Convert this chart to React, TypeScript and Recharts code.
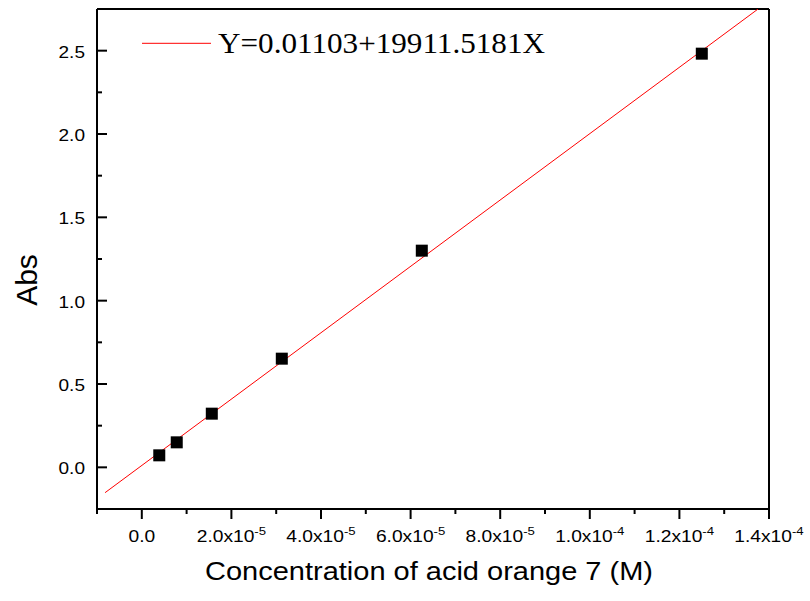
import React from 'react';
import { ComposedChart, XAxis, YAxis, Scatter, Line, ReferenceLine, Legend, Label } from 'recharts';

// Measured data (concentration in M, absorbance)
const concentration = [3.9e-6, 7.8e-6, 1.5625e-5, 3.125e-5, 6.25e-5, 1.25e-4];
const absorbance = [0.072, 0.15, 0.322, 0.652, 1.3, 2.482];
// Fitted line end points (Y=0.01103+19911.5181X), clipped at the top of the frame
const fitX = [-8.2e-6, 1.3756e-4];
const fitY = [-0.152, 2.75];

const xMajorTicks = [0, 2e-5, 4e-5, 6e-5, 8e-5, 1e-4, 1.2e-4, 1.4e-4];
const xMinorTicks = [-1e-5, 1e-5, 3e-5, 5e-5, 7e-5, 9e-5, 1.1e-4, 1.3e-4];
const xTickMantissa = ['0.0', '2.0x10', '4.0x10', '6.0x10', '8.0x10', '1.0x10', '1.2x10', '1.4x10'];
const xTickExponent = ['', '-5', '-5', '-5', '-5', '-4', '-4', '-4'];
const yMajorTicks = [0, 0.5, 1, 1.5, 2, 2.5];
const yMinorTicks = [0.25, 0.75, 1.25, 1.75, 2.25];
const yTickLabels = ['0.0', '0.5', '1.0', '1.5', '2.0', '2.5'];

const xTitle = 'Concentration of acid orange 7 (M)';
const yTitle = 'Abs';
const fitLabel = 'Y=0.01103+19911.5181X';

const xDomain: [number, number] = [-1e-5, 1.4e-4];
const yDomain: [number, number] = [-0.25, 2.75];

const points = concentration.map((x, i) => ({ x, y: absorbance[i] }));
const fitData = fitX.map((x, i) => ({ x, y: fitY[i] }));
const xTicks = [...xMajorTicks, ...xMinorTicks].sort((a, b) => a - b);
const yTicks = [...yMajorTicks, ...yMinorTicks].sort((a, b) => a - b);

const SANS = '"Liberation Sans", Arial, sans-serif';
const SERIF = '"Liberation Serif", "Times New Roman", serif';

const XTick = (props: any) => {
  const { x, y, payload } = props;
  const v = payload.value;
  const i = xMajorTicks.findIndex((t) => Math.abs(t - v) < 1e-12);
  if (i < 0) {
    return <line x1={x} y1={y} x2={x} y2={y + 5} stroke="#000" strokeWidth={2} />;
  }
  return (
    <g>
      <line x1={x} y1={y} x2={x} y2={y + 10} stroke="#000" strokeWidth={2} />
      <text
        transform={`translate(${x},${y + 33}) scale(1.2,1)`}
        textAnchor="middle"
        fontFamily={SANS}
        fontSize={16}
        fill="#000"
      >
        {xTickMantissa[i]}
        {xTickExponent[i] ? (
          <tspan dy={-7} fontSize={11}>
            {xTickExponent[i]}
          </tspan>
        ) : null}
      </text>
    </g>
  );
};

const YTick = (props: any) => {
  const { x, y, payload } = props;
  const v = payload.value;
  const i = yMajorTicks.findIndex((t) => Math.abs(t - v) < 1e-9);
  if (i < 0) {
    return <line x1={x} y1={y} x2={x + 5} y2={y} stroke="#000" strokeWidth={2} />;
  }
  return (
    <g>
      <line x1={x} y1={y} x2={x + 10} y2={y} stroke="#000" strokeWidth={2} />
      <text
        transform={`translate(${x - 12},${y + 7}) scale(1.12,1)`}
        textAnchor="end"
        fontFamily={SANS}
        fontSize={17}
        fill="#000"
      >
        {yTickLabels[i]}
      </text>
    </g>
  );
};

const SquareMarker = (props: any) => {
  const { cx, cy } = props;
  return <rect x={cx - 6} y={cy - 6} width={12} height={12} fill="#000" />;
};

const XTitle = (props: any) => {
  const { viewBox } = props;
  const cx = viewBox.x + viewBox.width / 2 - 4;
  const by = viewBox.y + 71;
  return (
    <text
      transform={`translate(${cx},${by}) scale(1.16,1)`}
      textAnchor="middle"
      fontFamily={SANS}
      fontSize={25}
      fill="#000"
    >
      {xTitle}
    </text>
  );
};

const YTitle = (props: any) => {
  const { viewBox } = props;
  const cy = viewBox.y + viewBox.height / 2 + 21;
  return (
    <text
      transform={`translate(37,${cy}) rotate(-90)`}
      textAnchor="middle"
      fontFamily={SANS}
      fontSize={30}
      fill="#000"
    >
      {yTitle}
    </text>
  );
};

const LegendContent = () => (
  <svg width={440} height={50} style={{ display: 'block' }}>
    <line x1={12} y1={23.3} x2={81} y2={23.3} stroke="#ff0000" strokeWidth={1} />
    <text x={88} y={32.5} fontFamily={SERIF} fontSize={30} fill="#000" textLength={327} lengthAdjust="spacingAndGlyphs">
      {fitLabel}
    </text>
  </svg>
);

export default function App() {
  return (
    <div style={{ position: 'absolute', left: 0, top: 0, background: '#fff' }}>
      <ComposedChart width={810} height={601} margin={{ top: 9, right: 41, bottom: 32, left: 37 }}>
        <XAxis
          dataKey="x"
          type="number"
          domain={xDomain}
          ticks={xTicks}
          interval={0}
          allowDataOverflow
          height={60}
          tickSize={0}
          tickMargin={0}
          tickLine={false}
          axisLine={{ stroke: '#000', strokeWidth: 2 }}
          tick={<XTick />}
        >
          <Label content={<XTitle />} />
        </XAxis>
        <YAxis
          type="number"
          domain={yDomain}
          ticks={yTicks}
          interval={0}
          allowDataOverflow
          width={60}
          tickSize={0}
          tickMargin={0}
          tickLine={false}
          axisLine={{ stroke: '#000', strokeWidth: 2 }}
          tick={<YTick />}
        >
          <Label content={<YTitle />} />
        </YAxis>
        <ReferenceLine y={2.75} stroke="#000" strokeWidth={2} />
        <ReferenceLine x={1.4e-4} stroke="#000" strokeWidth={2} />
        <Line
          data={fitData}
          dataKey="y"
          type="linear"
          stroke="#ff0000"
          strokeWidth={1}
          dot={false}
          activeDot={false}
          isAnimationActive={false}
        />
        <Scatter data={points} dataKey="y" fill="#000" shape={<SquareMarker />} isAnimationActive={false} />
        <Legend
          layout="horizontal"
          verticalAlign="middle"
          align="center"
          wrapperStyle={{ left: 130, top: 20, width: 440, height: 50 }}
          content={<LegendContent />}
        />
      </ComposedChart>
    </div>
  );
}
